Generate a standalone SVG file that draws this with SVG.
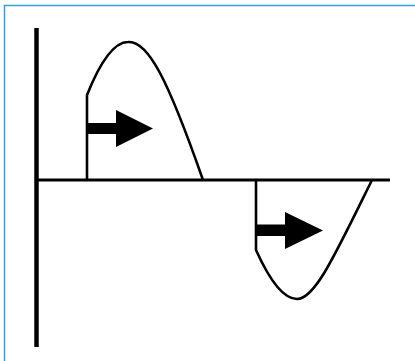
<svg xmlns="http://www.w3.org/2000/svg" width="415" height="361" viewBox="0 0 415 361">
<style>
.frame{stroke:#3a9fd6;stroke-width:1.5;fill:none}
.axis{stroke:#000;fill:none}
.wave{stroke:#000;stroke-width:2.6;fill:none;stroke-linejoin:round}
.arrow{fill:#000;stroke:none}
</style>
<rect width="415" height="361" fill="#fff"/>
<g id="frame">
<path class="frame" d="M4.5,361 V5.5 H415"/>
</g>
<g id="axes">
<line class="axis" x1="36.5" y1="28" x2="36.5" y2="347" stroke-width="4.5"/>
<line class="axis" x1="36" y1="180" x2="390" y2="180" stroke-width="3"/>
</g>
<g id="positive-wave">
<path class="wave" d="M87,180 V95 C97,70 112,42 128,42 C148,40 168,80 203,180"/>
<path class="arrow" d="M87,123 H116 V110 L153,128.5 L116,147 V134 H87 Z"/>
</g>
<g id="negative-wave">
<path class="wave" d="M256,180 V250 C265,270 280,299 297,299 C315,299 335,255 372,180"/>
<path class="arrow" d="M256,224.5 H285 V212 L323,230.5 L285,249 V236 H256 Z"/>
</g>
</svg>
